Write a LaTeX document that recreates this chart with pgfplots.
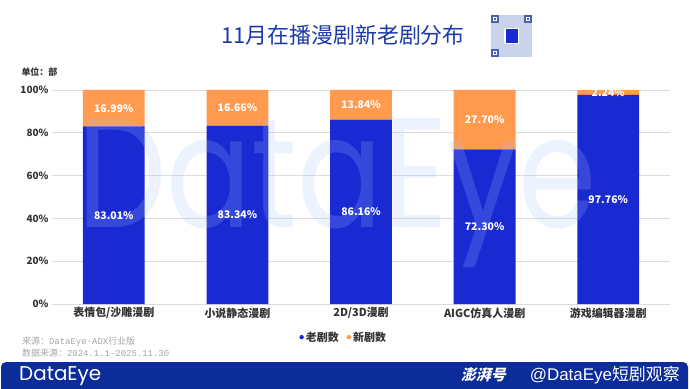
\documentclass[border=0pt]{standalone}
\usepackage{fontspec}
\usepackage{graphicx}
\usepackage{pgfplots}
\pgfplotsset{compat=1.18}
\setmainfont{Noto Sans CJK SC}
\newfontfamily\cjk{Noto Sans CJK SC}
\newfontfamily\cjkslant[FakeSlant=0.25]{Noto Sans CJK SC}
\newfontfamily\mono{Liberation Mono}
\newfontfamily\logo{Poppins}
\newfontfamily\lsans{Liberation Sans}
\definecolor{barblue}{HTML}{1A2AD2}
\definecolor{barorange}{HTML}{FF9A4E}
\definecolor{titleblue}{HTML}{1C3AA9}
\definecolor{bannerblue}{HTML}{0C2C99}
\definecolor{gridgray}{HTML}{DCDCDC}
\definecolor{tickgray}{HTML}{333333}
\definecolor{footgray}{HTML}{A6A6A6}
\definecolor{wmblue}{HTML}{A8C0FF}
\definecolor{qrlight}{HTML}{C9D3EC}
\definecolor{qrdark}{HTML}{4A5FB0}
\begin{document}
\begin{tikzpicture}[x=1bp,y=1bp]
\useasboundingbox (0,0) rectangle (690,388);
\fill[white] (0,0) rectangle (690,388);
% title
\node[font=\cjk\fontsize{22}{24}\selectfont, text=titleblue] at (343,353) {11月在播漫剧新老剧分布};
% QR placeholder
\fill[qrlight] (491,331) rectangle (532,373);
\foreach \qx/\qy in {491/365,524/365,491/331}{
  \fill[white] (\qx,\qy) rectangle ++(8,8);
  \draw[qrdark, line width=1.2bp] (\qx+1,\qy+1) rectangle ++(6,6);
  \fill[qrdark] (\qx+3,\qy+3) rectangle ++(2,2);
}
\fill[white] (504,344) rectangle (519,360);
\fill[barblue] (505.5,345.5) rectangle (517.5,358.5);
% unit
\node[anchor=west, font=\bfseries\fontsize{9}{10}\selectfont, text=tickgray] at (18,316) {单位：部};
\begin{axis}[
  at={(52bp,84bp)}, anchor=south west, scale only axis,
  width=618bp, height=214bp,
  ybar stacked, bar width=0.5,
  xmin=-0.5, xmax=4.5, ymin=0, ymax=100,
  xtick={0,1,2,3,4},
  xticklabels={表情包/沙雕漫剧,小说静态漫剧,2D/3D漫剧,AIGC仿真人漫剧,游戏编辑器漫剧},
  ytick={0,20,40,60,80,100},
  yticklabels={0\%,20\%,40\%,60\%,80\%,100\%},
  ymajorgrids, grid style={draw=gridgray, line width=0.9bp},
  axis line style={draw=none}, tick style={draw=none},
  xticklabel style={font=\bfseries\fontsize{11}{13}\selectfont, text=tickgray},
  yticklabel style={font=\bfseries\fontsize{10}{12}\selectfont, text=tickgray},
  legend style={at={(0.472,-0.155)}, anchor=center, draw=none, fill=none,
    legend columns=2, font=\bfseries\fontsize{11}{13}\selectfont, text=tickgray,
    /tikz/every even column/.append style={column sep=6bp},
    legend cell align=left},
]
\addplot[fill=barblue, draw=none,
  legend image code/.code={\fill[barblue] (0bp,0bp) circle (2.2bp);}]
  coordinates {(0,83.01) (1,83.34) (2,86.16) (3,72.30) (4,97.76)};
\addlegendentry{老剧数}
\addplot[fill=barorange, draw=none,
  legend image code/.code={\fill[barorange] (0bp,0bp) circle (2.2bp);}]
  coordinates {(0,16.99) (1,16.66) (2,13.84) (3,27.70) (4,2.24)};
\addlegendentry{新剧数}
\end{axis}
% watermark
\node[anchor=base west, inner sep=0, text=wmblue, opacity=0.2] at (77,161) {\resizebox{520bp}{109bp}{\logo DataEye}};
% value labels
\begin{axis}[
  at={(52bp,84bp)}, anchor=south west, scale only axis,
  width=618bp, height=214bp,
  xmin=-0.5, xmax=4.5, ymin=0, ymax=100, hide axis,
]
\addplot[draw=none, mark=none, nodes near coords={\pgfplotspointmeta\%},
  point meta=explicit symbolic,
  every node near coord/.style={anchor=center, text=white, font=\bfseries\fontsize{10.5}{12}\selectfont}]
  table[meta=lab] {
x y lab
0 41.505 83.01
1 41.67 83.34
2 43.08 86.16
3 36.15 72.30
4 48.88 97.76
0 91.505 16.99
1 91.67 16.66
2 93.08 13.84
3 86.15 27.70
4 98.88 2.24
};
\end{axis}
% footnotes
\node[anchor=west, inner sep=0, font=\fontsize{9}{10}\selectfont, text=footgray] at (22,46) {\cjk 来源：\mono DataEye-ADX\cjk 行业版};
\node[anchor=west, inner sep=0, font=\fontsize{9}{10}\selectfont, text=footgray] at (22,35) {\cjk 数据来源：\mono 2024.1.1-2025.11.30};
% banner
\fill[bannerblue, rounded corners=5bp] (1,-8) rectangle (688,26);
\node[anchor=west, inner sep=0, font=\logo\fontsize{20}{20}\selectfont, text=white] at (19,12) {DataEye};
\node[anchor=east, inner sep=0, font=\fontsize{17}{18}\selectfont, text=white] at (680,13) {{\lsans @DataEye}短剧观察};
\node[anchor=east, inner sep=0, font=\cjkslant\bfseries\fontsize{15}{16}\selectfont, text=white] at (506,13) {澎湃号};
\end{tikzpicture}
\end{document}
